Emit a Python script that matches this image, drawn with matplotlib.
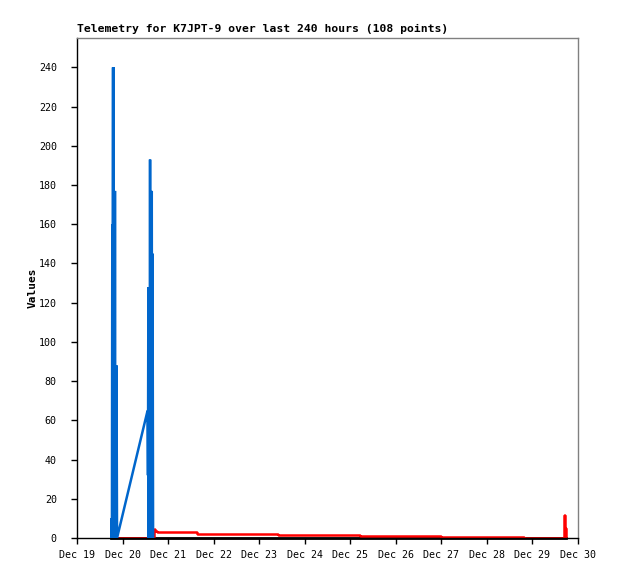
import datetime as dt
import matplotlib
matplotlib.use("Agg")
import matplotlib.pyplot as plt
import matplotlib.dates as mdates

start = dt.datetime(2024, 12, 19)

# hours since Dec 19 00:00 and values
blue_hours = [18.1, 18.3, 18.4, 18.6, 18.7, 19.0, 19.1, 19.3, 19.4, 19.6, 19.8, 20.0, 20.2, 20.4, 20.6, 20.8, 21.1,
              37.2, 37.4, 37.6, 37.8, 38.1, 38.3, 38.5, 38.7, 39.0, 39.2, 39.4, 39.6, 39.8, 40.1]
blue_vals = [0, 10, 0, 160, 0, 240, 0, 240, 0, 177, 0, 177, 0, 88, 0, 88, 0,
             65, 32, 128, 0, 128, 0, 193, 0, 177, 0, 177, 0, 145, 0]

red_hours = [17.8, 17.9, 18.2, 40.2, 40.4, 41.2, 42.2, 63.4, 106.1, 148.9, 191.7,
             235.5, 256.3, 256.4, 257.0, 257.7]
red_vals = [0, 10, 0, 0, 4.6, 3.7, 2.9, 2.2, 1.7, 1.2, 0.7,
            0, 0, 11.5, 5, 0]

black_hours = [17.8, 257.7]
black_vals = [0, 0]

yticks = list(range(0, 241, 20))


def to_dates(hours):
    return [start + dt.timedelta(hours=h) for h in hours]


mono = "DejaVu Sans Mono"
plt.rcParams["font.family"] = mono

fig = plt.figure(figsize=(6.18, 5.79), dpi=100)
ax = fig.add_axes([77 / 618, 41 / 579, 501 / 618, 500 / 579])

ax.plot(to_dates(black_hours), black_vals, color="black", lw=2, clip_on=False, zorder=1)
ax.plot(to_dates(red_hours), red_vals, color="#ff0000", lw=1.8, drawstyle="steps-post",
        solid_capstyle="butt", solid_joinstyle="bevel", zorder=2)
ax.plot(to_dates(blue_hours), blue_vals, color="#0066cc", lw=1.8,
        solid_capstyle="butt", solid_joinstyle="bevel", zorder=3)

ax.set_xlim(start, start + dt.timedelta(days=11))
ax.set_ylim(0, 255)
ax.set_yticks(yticks)
ax.xaxis.set_major_locator(mdates.DayLocator())
ax.xaxis.set_major_formatter(mdates.DateFormatter("%b %d"))

ax.tick_params(axis="both", labelsize=7.2, direction="out", length=4.5, width=1, color="black")
ax.tick_params(axis="y", pad=10)
ax.tick_params(axis="x", pad=4.5)

for side in ["top", "right"]:
    ax.spines[side].set_color("#808080")
    ax.spines[side].set_linewidth(1)
for side in ["left", "bottom"]:
    ax.spines[side].set_color("black")
    ax.spines[side].set_linewidth(1)

ax.set_ylabel("Values", fontsize=8, fontweight="bold", labelpad=1)
ax.set_title("Telemetry for K7JPT-9 over last 240 hours (108 points)",
             loc="left", fontsize=8.2, fontweight="bold", pad=4)

fig.savefig("out.png", dpi=100)
